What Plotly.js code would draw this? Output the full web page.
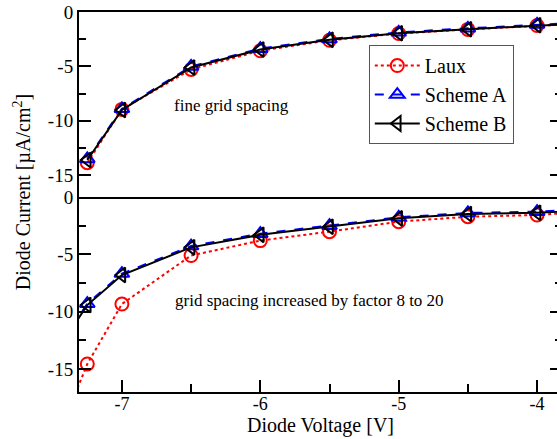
<!DOCTYPE html>
<html>
<head>
<meta charset="utf-8">
<script src="https://cdn.plot.ly/plotly-3.0.1.min.js"></script>
<style>
  html, body { margin: 0; padding: 0; background: #fff; overflow: hidden; }
  #chart { width: 580px; height: 439px; }
</style>
</head>
<body>
<div id="chart"></div>
<script>
// Diode voltage (V)
const voltageTop = [-7.25, -7, -6.5, -6, -5.5, -5, -4.5, -4, -3.5];
const voltageBottom = [-7.5, -7.25, -7, -6.5, -6, -5.5, -5, -4.5, -4, -3.5];

// Top panel: fine grid spacing (µA/cm²)
const lauxTop    = [-13.85, -8.95, -5.28, -3.56, -2.6, -1.98, -1.6, -1.24, -0.95];
const schemeATop = [-13.5, -8.9, -5.0, -3.37, -2.48, -1.87, -1.5, -1.14, -0.86];
const schemeBTop = [-13.6, -9.0, -5.1, -3.45, -2.56, -1.95, -1.58, -1.22, -0.94];

// Bottom panel: grid spacing increased by factor 8 to 20
const lauxBottom    = [-22, -14.56, -9.33, -5.1, -3.8, -3.02, -2.15, -1.72, -1.57, -1.15];
const schemeABottom = [-13.9, -9.3, -6.68, -4.28, -3.2, -2.5, -1.77, -1.39, -1.28, -0.97];
const schemeBBottom = [-14, -9.42, -6.8, -4.39, -3.3, -2.6, -1.86, -1.48, -1.37, -1.05];

const seriesNames = ['Laux', 'Scheme A', 'Scheme B'];

const xTickVals = [-7, -6, -5, -4];
const xTickText = ['-7', '-6', '-5', '-4'];
const yTickVals = [0, -5, -10, -15];
const yTickText = ['0', '-5', '-10', '-15'];

const FONT = '"Liberation Serif", "Times New Roman", serif';

const styles = [
  { color: '#ff0000', dash: 'dot', symbol: 'circle-open' },
  { color: '#0000ff', dash: 'dash', symbol: 'triangle-up-open' },
  { color: '#000000', dash: 'solid', symbol: 'triangle-left-open' }
];

function mk(x, y, i, xa, ya, showlegend) {
  const s = styles[i];
  return {
    x: x, y: y, name: seriesNames[i], xaxis: xa, yaxis: ya,
    type: 'scatter', mode: 'lines+markers', showlegend: showlegend,
    line: { color: s.color, dash: s.dash, width: 2 },
    marker: { symbol: s.symbol, size: 13, color: s.color, line: { color: s.color, width: 2 } }
  };
}

const data = [
  mk(voltageTop, lauxTop, 0, 'x2', 'y2', true),
  mk(voltageTop, schemeATop, 1, 'x2', 'y2', true),
  mk(voltageTop, schemeBTop, 2, 'x2', 'y2', true),
  mk(voltageBottom, lauxBottom, 0, 'x', 'y', false),
  mk(voltageBottom, schemeABottom, 1, 'x', 'y', false),
  mk(voltageBottom, schemeBBottom, 2, 'x', 'y', false)
];

const split = 195 / 380;
const xRange = [-7.31, -3.82];

const yCommon = {
  range: [-17, 0], tickmode: 'array', tickvals: yTickVals, ticktext: yTickText,
  ticks: 'inside', ticklen: 12, tickwidth: 2, tickcolor: '#000',
  showline: true, linecolor: '#000', linewidth: 2, mirror: 'ticks',
  showgrid: false, zeroline: false,
  tickfont: { family: FONT, size: 19, color: '#000' },
  minor: { tickmode: 'linear', tick0: 0, dtick: 2.5, ticks: 'inside', ticklen: 7, tickwidth: 2, tickcolor: '#000', showgrid: false }
};

const layout = {
  width: 580, height: 439,
  margin: { l: 79, r: 18, t: 12, b: 47 },
  paper_bgcolor: '#fff', plot_bgcolor: '#fff',
  font: { family: FONT, color: '#000' },
  showlegend: true,
  legend: {
    x: 0.600, y: 0.913, xanchor: 'left', yanchor: 'top',
    bordercolor: '#555', borderwidth: 1, bgcolor: '#fff',
    font: { family: FONT, size: 20, color: '#000' },
    itemwidth: 45, tracegroupgap: 0
  },
  xaxis: {
    range: xRange, anchor: 'y', domain: [0, 1],
    tickmode: 'array', tickvals: xTickVals, ticktext: xTickText,
    ticks: 'inside', ticklen: 12, tickwidth: 2, tickcolor: '#000',
    ticklabelstandoff: -6,
    showline: true, linecolor: '#000', linewidth: 2, mirror: false,
    showgrid: false, zeroline: false,
    tickfont: { family: FONT, size: 18, color: '#000' },
    minor: { tickmode: 'linear', tick0: 0, dtick: 0.5, ticks: 'inside', ticklen: 8, tickwidth: 2, tickcolor: '#000', showgrid: false }
  },
  xaxis2: {
    range: xRange, anchor: 'y2', matches: 'x', domain: [0, 1],
    ticks: '', showticklabels: false,
    showline: true, linecolor: '#000', linewidth: 2, mirror: true,
    showgrid: false, zeroline: false
  },
  yaxis: Object.assign({}, yCommon, { domain: [0, split], anchor: 'x' }),
  yaxis2: Object.assign({}, yCommon, { domain: [split, 1], anchor: 'x2' }),
  annotations: [
    { xref: 'x2', yref: 'y2', x: -6.208, y: -8.55, text: 'fine grid spacing', showarrow: false,
      font: { family: FONT, size: 17, color: '#000' } },
    { xref: 'x', yref: 'y', x: -5.648, y: -8.98, text: 'grid spacing increased by factor 8 to 20', showarrow: false,
      font: { family: FONT, size: 17, color: '#000' } },
    { xref: 'paper', yref: 'paper', x: 0.50, y: -0.088, text: 'Diode Voltage [V]', showarrow: false,
      xanchor: 'center', yanchor: 'middle', font: { family: FONT, size: 20, color: '#000' } },
    { xref: 'paper', yref: 'paper', x: -0.118, y: 0.526, text: 'Diode Current [µA/cm<sup>2</sup>]', showarrow: false,
      textangle: -90, xanchor: 'center', yanchor: 'middle', font: { family: FONT, size: 20, color: '#000' } }
  ]
};

Plotly.newPlot('chart', data, layout, { displayModeBar: false, staticPlot: true });
</script>
</body>
</html>
